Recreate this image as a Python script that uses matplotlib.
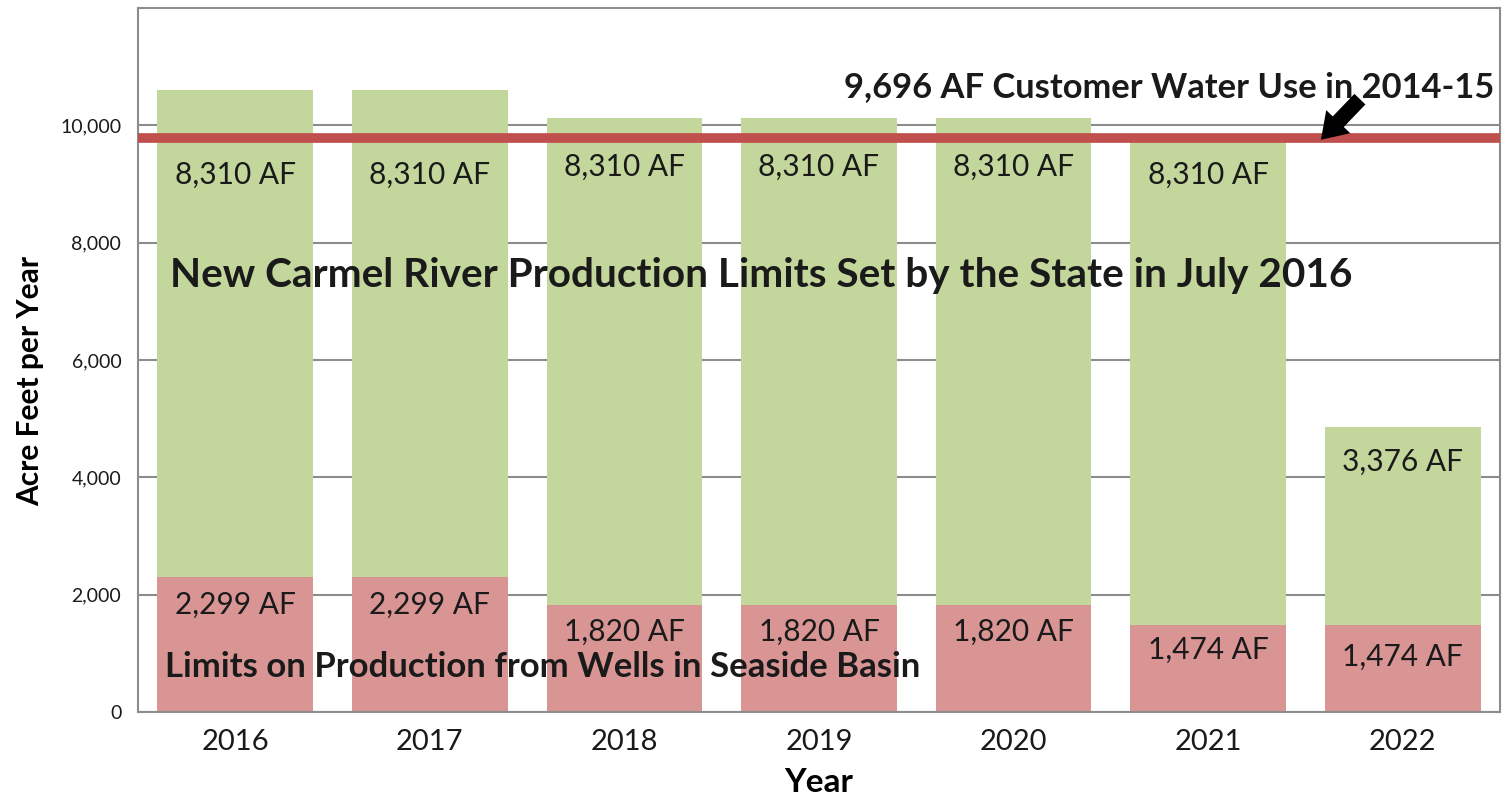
import numpy as np
import matplotlib.pyplot as plt

plt.rcParams["font.family"] = ["Lato", "DejaVu Sans"]

years = ["2016", "2017", "2018", "2019", "2020", "2021", "2022"]
seaside = [2299, 2299, 1820, 1820, 1820, 1474, 1474]
carmel = [8310, 8310, 8310, 8310, 8310, 8310, 3376]
customer_use = 9696
customer_line = 9780  # where the red line sits in the picture

# label heights (data units)
carmel_label_y = [9160, 9160, 9300, 9300, 9300, 9160, 4270]
seaside_label_y = [1830, 1830, 1370, 1370, 1370, 1060, 940]

green = "#c3d69b"
pink = "#d99594"
grid_gray = "#8c8c8c"
ink = "#1a1a1a"

fig = plt.figure(figsize=(15.06, 7.99), dpi=100)
ax = fig.add_axes([0.0916, 0.109, 0.9044, 0.881])

x = np.arange(len(years))
ax.bar(x, seaside, width=0.8, color=pink, zorder=2)
ax.bar(x, carmel, width=0.8, bottom=seaside, color=green, zorder=2)

for i in range(len(years)):
    ax.text(x[i], carmel_label_y[i], f"{carmel[i]:,} AF", ha="center", va="center",
            fontsize=21.5, color=ink, zorder=4)
    ax.text(x[i], seaside_label_y[i], f"{seaside[i]:,} AF", ha="center", va="center",
            fontsize=21.5, color=ink, zorder=4)

ax.axhline(customer_line, xmin=0.003, color="#c0504d", lw=7, zorder=3)

ax.text(3.13, 10650, f"{customer_use:,} AF Customer Water Use in 2014-15",
        ha="left", va="center", fontsize=24.8, fontweight="bold", color=ink, zorder=5)
ax.annotate("", xy=(5.57, 9720), xytext=(5.79, 10480),
            arrowprops=dict(arrowstyle="simple,head_length=0.9,head_width=1.2,tail_width=0.55",
                            mutation_scale=20, color="black", lw=0), zorder=5)
ax.text(-0.333, 7440, "New Carmel River Production Limits Set by the State in July 2016",
        ha="left", va="center", fontsize=29.2, fontweight="bold", color=ink, zorder=5)
ax.text(-0.36, 770, "Limits on Production from Wells in Seaside Basin",
        ha="left", va="center", fontsize=25, fontweight="bold", color=ink, zorder=5)

ax.set_xlim(-0.5, 6.5)
ax.set_ylim(0, 12000)
ax.set_xticks(x)
ax.set_xticklabels(years, fontsize=21)
ax.set_yticks(np.arange(0, 10001, 2000))
ax.set_yticklabels([f"{v:,}" for v in range(0, 10001, 2000)], fontsize=14)
ax.tick_params(axis="both", length=0, pad=12, colors=ink)
ax.yaxis.grid(True, color=grid_gray, lw=1.5, zorder=1)
ax.set_axisbelow(True)
for s in ax.spines.values():
    s.set_color(grid_gray)
    s.set_linewidth(1.5)

ax.set_xlabel("Year", fontsize=24, fontweight="bold", labelpad=10)
ax.set_ylabel("Acre Feet per Year", fontsize=21.5, fontweight="bold")
ax.yaxis.set_label_coords(-0.069, 0.47)

fig.savefig("out.png", dpi=100)
